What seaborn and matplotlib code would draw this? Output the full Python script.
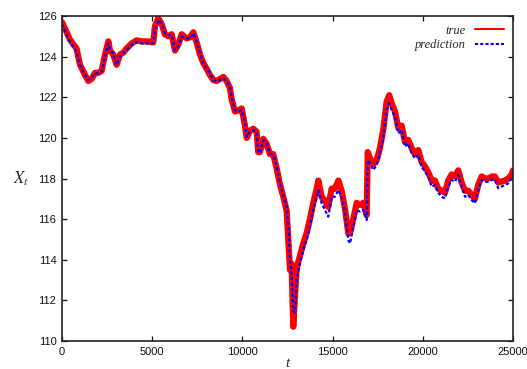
import pandas as pd
import matplotlib
matplotlib.use("Agg")
import matplotlib.pyplot as plt
import seaborn as sns
from matplotlib.lines import Line2D

# values
t = [0, 260, 440, 630, 810, 900, 1000, 1275, 1460, 1645, 1830, 2015, 2200, 2385,
     2570, 2660, 2845, 3030, 3215, 3400, 3585, 3860, 4140, 4415, 4785, 5060, 5155,
     5340, 5525, 5710, 5890, 6080, 6265, 6450, 6635, 6910, 7095, 7280, 7465, 7650,
     7830, 8020, 8200, 8390, 8575, 8760, 8940, 9130, 9310, 9405, 9590, 9775, 9960,
     10145, 10240, 10420, 10605, 10790, 10880, 10975, 11160, 11345, 11530, 11710,
     11900, 12085, 12270, 12455, 12580, 12640, 12730, 12820, 12915, 13010, 13190,
     13375, 13560, 13745, 13930, 14120, 14210, 14395, 14580, 14760, 14950, 15130,
     15320, 15500, 15690, 15870, 15965, 16150, 16335, 16520, 16700, 16890, 16950,
     17070, 17255, 17445, 17625, 17810, 18000, 18140, 18275, 18460, 18640, 18830,
     19010, 19195, 19380, 19565, 19750, 19940, 20120, 20305, 20490, 20675, 20860,
     21045, 21230, 21410, 21600, 21785, 21965, 22155, 22340, 22520, 22710, 22890,
     23075, 23265, 23450, 23630, 23820, 24000, 24185, 24370, 24555, 24740, 24925,
     25000]

true_vals = [125.7, 125.2, 124.85, 124.6, 124.4, 124.0, 123.6, 123.1, 122.8, 122.9,
             123.2, 123.2, 123.3, 124.1, 124.75, 124.3, 124.1, 123.6, 124.1, 124.2,
             124.4, 124.65, 124.8, 124.75, 124.75, 124.7, 125.5, 125.9, 125.6, 125.1,
             125.0, 125.1, 124.3, 124.6, 125.1, 124.9, 124.95, 125.2, 124.7, 124.1,
             123.7, 123.4, 123.1, 122.85, 122.8, 122.9, 123.0, 122.8, 122.45, 121.9,
             121.3, 121.35, 121.45, 120.6, 120.0, 120.35, 120.45, 120.3, 119.3, 119.3,
             119.95, 119.7, 119.2, 119.2, 118.5, 117.7, 117.1, 116.4, 114.5, 113.5,
             113.8, 110.7, 112.2, 113.6, 114.2, 114.8, 115.3, 116.0, 116.8, 117.5,
             117.9, 117.1, 116.9, 116.6, 117.5, 117.5, 117.9, 117.4, 116.5, 115.3,
             115.3, 116.0, 116.8, 116.7, 116.8, 116.2, 119.3, 119.0, 118.7, 118.9,
             119.5, 120.4, 121.8, 122.1, 121.7, 121.3, 120.5, 120.6, 119.8, 119.9,
             119.5, 119.2, 119.4, 118.8, 118.6, 118.3, 117.9, 117.9, 117.5, 117.4,
             117.3, 117.9, 118.2, 118.1, 118.4, 117.8, 117.4, 117.4, 117.2, 117.0,
             117.7, 118.1, 118.0, 118.0, 118.1, 118.1, 117.8, 117.85, 117.9, 118.0,
             118.2, 118.4]

pred_vals = [125.6, 125.06, 124.73, 124.49, 124.24, 123.93, 123.59, 123.1, 122.85,
             122.93, 123.18, 123.18, 123.26, 124.0, 124.65, 124.33, 124.16, 123.59,
             124.0, 124.16, 124.33, 124.57, 124.73, 124.65, 124.65, 124.65, 125.31,
             125.8, 125.64, 125.15, 125.06, 125.06, 124.33, 124.49, 124.98, 124.9,
             124.9, 125.15, 124.73, 124.16, 123.67, 123.42, 123.18, 122.85, 122.77,
             122.85, 122.93, 122.77, 122.52, 122.03, 121.37, 121.29, 121.37, 120.72,
             120.06, 120.3, 120.39, 120.3, 119.4, 119.24, 119.89, 119.73, 119.24,
             119.16, 118.58, 117.76, 117.19, 116.61, 115.3, 113.99, 113.33, 111.5,
             111.4, 113.0, 113.82, 114.48, 114.97, 115.63, 116.45, 117.1, 117.43,
             116.78, 116.45, 116.12, 117.1, 117.1, 117.43, 117.1, 116.29, 114.97,
             114.8, 115.63, 116.45, 116.37, 116.45, 115.96, 118.9, 118.75, 118.42,
             118.66, 119.24, 120.06, 121.37, 121.7, 121.37, 121.04, 120.22, 120.39,
             119.57, 119.73, 119.24, 118.99, 119.16, 118.58, 118.33, 118.09, 117.6,
             117.68, 117.3, 117.1, 117.02, 117.6, 117.93, 117.84, 118.17, 117.6,
             117.1, 117.19, 116.94, 116.78, 117.43, 117.93, 117.84, 117.84, 117.93,
             117.93, 117.52, 117.6, 117.68, 117.76, 118.0, 118.2]

x_ticks = [0, 5000, 10000, 15000, 20000, 25000]
y_ticks = [110, 112, 114, 116, 118, 120, 122, 124, 126]

df = pd.DataFrame({"t": t, "true": true_vals, "prediction": pred_vals})

sns.set_style("ticks")
plt.rcParams["font.family"] = ["Liberation Sans", "DejaVu Sans"]
plt.rcParams["mathtext.fontset"] = "stix"

fig = plt.figure(figsize=(5.27, 3.69), dpi=100)
ax = fig.add_axes([0.1176, 0.0759, 0.8558, 0.8807])

sns.lineplot(data=df, x="t", y="true", ax=ax, color="#ff0000", linewidth=4.5,
             solid_joinstyle="round", legend=False)
sns.lineplot(data=df, x="t", y="prediction", ax=ax, color="#0000ff", linewidth=1.6,
             legend=False)
ax.lines[-1].set_linestyle((0, (1.5, 1.0)))

ax.set_xlim(0, 25000)
ax.set_ylim(110, 126)
ax.set_xticks(x_ticks)
ax.set_yticks(y_ticks)
ax.tick_params(direction="in", top=True, right=True, length=3.5, width=0.9,
               labelsize=8, colors="#111111", pad=4)
for s in ax.spines.values():
    s.set_linewidth(1.2)
    s.set_color("#222222")

ax.set_xlabel("t", family="Liberation Serif", style="italic", fontsize=11, labelpad=0)
ax.set_ylabel("$X_t$", rotation=0, fontsize=12, labelpad=12, va="center")

handles = [Line2D([], [], color="#ff0000", linewidth=1.5),
           Line2D([], [], color="#0000ff", linewidth=1.5, linestyle=(0, (1.5, 1.0)))]
ax.legend(handles, ["true", "prediction"], loc="upper right", frameon=False,
          markerfirst=False, handlelength=2.3, labelspacing=0.2, borderaxespad=0.3,
          prop={"family": "Liberation Serif", "style": "italic", "size": 9})

fig.savefig("out.png", dpi=100)
